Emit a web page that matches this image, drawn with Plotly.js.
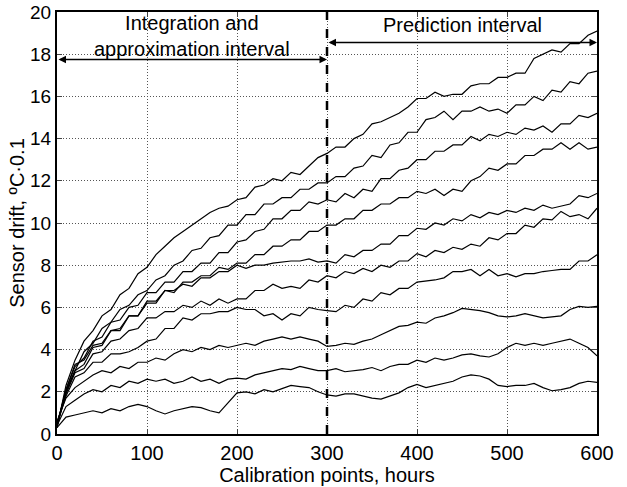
<!DOCTYPE html>
<html>
<head>
<meta charset="utf-8">
<script src="https://cdn.plot.ly/plotly-3.0.1.min.js"></script>
<style>html,body{margin:0;padding:0;background:#fff;}#chart{width:627px;height:487px;}</style>
</head>
<body>
<div id="chart"></div>
<script>
var hours = [0,10,20,30,40,50,60,70,80,90,100,110,120,130,140,150,160,170,180,190,200,210,220,230,240,250,260,270,280,290,300,310,320,330,340,350,360,370,380,390,400,410,420,430,440,450,460,470,480,490,500,510,520,530,540,550,560,570,580,590,600];

var sensorA = [0.3,2.3,3.5,4.4,4.9,5.6,5.9,6.6,6.9,7.6,7.9,8.5,8.9,9.3,9.6,9.9,10.2,10.5,10.7,10.8,11.1,11.2,11.7,11.8,12.1,12.0,12.4,12.3,12.7,13.1,13.3,13.6,13.6,14.0,14.2,14.7,14.8,15.0,15.2,15.5,15.9,15.9,16.2,16.0,16.1,16.1,16.5,16.6,16.6,16.9,16.9,17.1,17.1,17.8,18.0,18.2,18.1,18.5,18.5,18.9,19.1];
var sensorB = [0.3,2.0,3.0,3.9,4.3,5.0,5.3,5.9,6.1,6.6,6.8,7.3,7.5,8.0,8.2,8.7,8.8,9.3,9.4,9.9,9.9,10.4,10.4,10.9,10.9,11.2,11.2,11.6,11.6,11.9,11.9,12.2,12.2,12.6,12.7,13.2,13.1,13.7,13.8,14.3,14.3,14.9,15.0,15.3,14.9,15.3,15.3,15.5,15.3,15.4,15.2,15.6,15.6,16.0,15.8,16.3,16.2,16.7,16.6,17.1,17.2];
var sensorC = [0.4,2.1,3.2,3.6,4.4,4.6,5.3,5.4,6.0,6.1,6.7,6.7,7.2,7.2,7.7,7.7,8.1,8.1,8.6,8.6,9.1,9.2,9.6,9.7,10.2,10.2,10.6,10.6,11.0,10.9,11.1,11.0,11.4,11.2,11.6,11.5,12.1,12.1,12.5,12.6,13.0,13.0,13.4,13.4,13.7,13.7,14.1,13.9,14.2,14.1,14.3,14.2,14.5,14.4,14.6,14.3,14.7,14.7,15.1,15.0,15.2];
var sensorD = [0.5,2.0,3.0,3.3,4.1,4.2,4.9,4.9,5.6,5.6,6.2,6.2,6.8,6.7,7.2,7.2,7.5,7.5,7.9,7.8,8.1,8.1,8.5,8.5,8.9,8.9,9.2,9.2,9.6,9.6,9.9,9.9,10.2,10.2,10.6,10.6,10.9,10.9,11.2,11.2,11.5,11.4,11.6,11.3,11.6,11.5,12.0,12.2,12.6,12.5,12.8,12.8,13.2,13.2,13.5,13.5,13.8,13.5,13.8,13.5,13.6];
var sensorE = [0.4,2.1,3.3,3.5,4.2,4.3,4.9,5.0,5.6,5.6,6.3,6.3,6.8,6.8,7.1,7.0,7.4,7.4,7.7,7.7,8.0,7.85,8.0,8.0,8.1,8.15,8.2,8.2,8.3,8.15,8.2,8.1,8.5,8.4,8.7,8.7,9.0,9.0,9.4,9.4,9.75,9.7,10.0,9.9,10.2,10.1,10.4,10.25,10.5,10.4,10.6,10.5,10.7,10.6,10.85,10.7,10.8,10.9,11.3,11.2,11.4];
var sensorF = [0.5,1.9,2.9,3.1,3.8,3.9,4.4,4.5,4.9,5.0,5.5,5.5,5.8,5.8,6.1,6.0,6.3,6.1,6.4,6.2,6.4,6.4,6.8,6.8,7.1,6.9,7.0,6.9,7.3,7.2,7.5,7.4,7.7,7.6,7.85,7.7,8.0,7.9,8.2,8.2,8.55,8.4,8.7,8.6,8.85,8.75,9.0,8.9,9.3,9.2,9.5,9.5,9.9,9.8,10.2,10.15,10.55,10.3,10.4,10.2,10.7];
var sensorG = [0.5,1.8,2.7,2.9,3.4,3.4,3.8,3.8,3.9,4.1,4.4,4.5,5.0,5.0,5.5,5.4,5.7,5.7,5.8,5.8,6.0,5.9,5.9,5.6,5.7,5.4,5.7,5.6,6.0,5.9,5.85,5.8,6.1,6.0,6.4,6.3,6.7,6.6,6.9,6.9,7.2,7.25,7.3,7.4,7.7,7.7,7.8,7.5,7.8,7.5,7.6,7.45,7.6,7.6,7.7,7.75,7.8,7.8,8.2,8.2,8.5];
var sensorH = [0.6,1.7,2.2,2.5,2.8,3.0,2.9,3.2,3.1,3.4,3.4,3.6,3.5,3.8,4.0,3.9,4.1,4.0,4.2,4.1,4.2,4.3,4.2,4.4,4.5,4.6,4.5,4.6,4.5,4.4,4.15,4.2,4.3,4.25,4.4,4.5,4.7,4.9,5.1,5.15,5.3,5.25,5.5,5.6,5.75,5.95,5.9,5.85,5.75,5.6,5.55,5.6,5.7,5.6,5.5,5.55,5.6,5.9,6.05,6.0,6.05];
var sensorI = [0.4,1.3,1.6,1.9,2.1,2.0,2.3,2.2,2.5,2.4,2.6,2.5,2.6,2.4,2.5,2.7,2.5,2.6,2.4,2.6,2.65,2.6,2.8,2.9,3.0,3.1,3.05,3.2,3.1,3.0,3.0,3.1,2.95,3.0,3.05,3.15,3.0,3.2,3.3,3.3,3.5,3.4,3.6,3.5,3.6,3.75,3.8,3.7,3.65,3.8,4.1,4.3,4.2,4.3,4.2,4.3,4.4,4.5,4.3,4.1,3.7];
var sensorJ = [0.3,0.8,0.9,1.0,1.1,1.0,1.2,1.1,1.3,1.4,1.3,1.1,0.95,1.1,1.2,1.3,1.25,1.1,1.0,1.5,1.95,2.0,1.9,2.1,2.0,2.15,2.3,2.25,2.2,2.0,1.85,1.8,1.9,1.9,1.8,1.7,1.65,1.8,1.95,2.2,2.35,2.2,2.3,2.4,2.5,2.7,2.8,2.75,2.6,2.3,2.25,2.3,2.3,2.4,2.2,2.05,2.1,2.2,2.4,2.5,2.45];

var xTickVals = [0,100,200,300,400,500,600];
var yTickVals = [0,2,4,6,8,10,12,14,16,18,20];
var boundaryHour = 300;
var leftLabel = "Integration and<br>approximation interval";
var rightLabel = "Prediction interval";

var allSeries = [sensorA,sensorB,sensorC,sensorD,sensorE,sensorF,sensorG,sensorH,sensorI,sensorJ];
var traces = allSeries.map(function(s){
  return {x: hours, y: s, type: 'scatter', mode: 'lines',
          line: {color: '#000', width: 1.2}, hoverinfo: 'skip', showlegend: false};
});

var font = 'Liberation Sans, Arial, Helvetica, sans-serif';
var layout = {
  width: 627, height: 487,
  margin: {l: 57, r: 30, t: 12, b: 53},
  paper_bgcolor: '#fff', plot_bgcolor: '#fff',
  font: {family: font, size: 20, color: '#000'},
  showlegend: false,
  xaxis: {
    range: [0, 600], tickvals: xTickVals, ticks: 'inside', ticklen: 5,
    showline: true, linecolor: '#000', linewidth: 2, mirror: 'ticks',
    showgrid: true, gridcolor: '#555', griddash: '1px,2px', gridwidth: 1,
    zeroline: false, tickfont: {size: 20},
    title: {text: 'Calibration points, hours', font: {size: 20}, standoff: 0}
  },
  yaxis: {
    range: [0, 20], tickvals: yTickVals, ticks: 'inside', ticklen: 5,
    showline: true, linecolor: '#000', linewidth: 2, mirror: 'ticks',
    showgrid: true, gridcolor: '#555', griddash: '1px,2px', gridwidth: 1,
    zeroline: false, tickfont: {size: 19}, ticklabeloverflow: 'allow',
    title: {text: 'Sensor drift, ºC·0.1', font: {size: 20}, standoff: 0}
  },
  shapes: [
    {type: 'line', xref: 'x', yref: 'y', x0: boundaryHour, x1: boundaryHour, y0: 0, y1: 20,
     line: {color: '#000', width: 2.5, dash: 'dash'}}
  ],
  annotations: [
    {x: 150, y: 18.87, xref: 'x', yref: 'y', text: leftLabel, showarrow: false,
     font: {size: 20}, xanchor: 'center', yanchor: 'middle'},
    {x: 450, y: 19.4, xref: 'x', yref: 'y', text: rightLabel, showarrow: false,
     font: {size: 20}, xanchor: 'center', yanchor: 'middle'},
    {x: boundaryHour, y: 17.75, ax: 0, ay: 17.75, xref: 'x', yref: 'y', axref: 'x', ayref: 'y',
     text: '', showarrow: true, arrowside: 'end+start', arrowhead: 2, arrowsize: 1, arrowwidth: 1.5, arrowcolor: '#000'},
    {x: 600, y: 18.56, ax: boundaryHour, ay: 18.56, xref: 'x', yref: 'y', axref: 'x', ayref: 'y',
     text: '', showarrow: true, arrowside: 'end+start', arrowhead: 2, arrowsize: 1, arrowwidth: 1.5, arrowcolor: '#000'}
  ]
};
Plotly.newPlot('chart', traces, layout, {displayModeBar: false, staticPlot: true});
</script>
</body>
</html>
